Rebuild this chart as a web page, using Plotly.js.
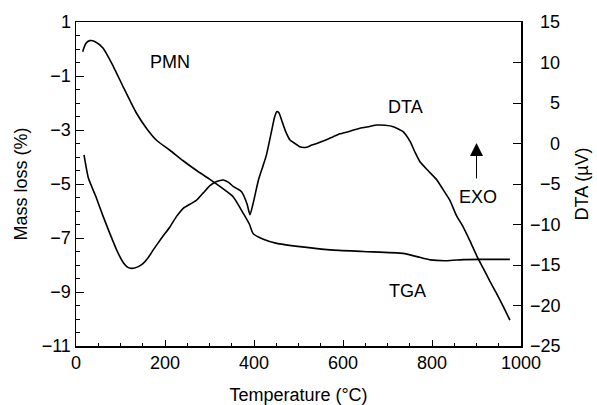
<!DOCTYPE html>
<html>
<head>
<meta charset="utf-8">
<script src="https://cdn.plot.ly/plotly-3.0.1.min.js"></script>
<style>html,body{margin:0;padding:0;background:#fff;}#chart{width:597px;height:405px;}</style>
</head>
<body>
<div id="chart"></div>
<script>
// TGA: mass loss (%) vs temperature (°C), left axis
const tgaTemp = [15, 22, 31, 43, 61, 84, 106, 136, 159, 181, 211, 240, 271, 300, 324, 353, 376, 390, 398, 421, 451, 503, 571, 646, 735, 766, 796, 833, 870, 908, 975];
const tgaMass = [-0.1, 0.2, 0.31, 0.27, 0.03, -0.65, -1.4, -2.38, -2.95, -3.38, -3.75, -4.13, -4.5, -4.82, -5.1, -5.47, -6.09, -6.5, -6.83, -7.05, -7.2, -7.32, -7.44, -7.5, -7.57, -7.69, -7.81, -7.84, -7.8, -7.79, -7.79];

// DTA: signal (µV) vs temperature (°C), right axis
const dtaTemp = [18, 28, 45, 61, 76, 91, 105, 114, 122, 129, 140, 151, 162, 174, 192, 211, 226, 241, 256, 271, 286, 301, 316, 331, 343, 353, 363, 372, 384, 391, 398, 410, 420, 428, 440, 446, 451, 456, 462, 471, 481, 492, 503, 512, 518, 530, 541, 560, 578, 593, 612, 638, 660, 676, 695, 713, 735, 751, 762, 773, 792, 811, 825, 840, 855, 870, 885, 900, 915, 930, 945, 960, 975];
const dtaSignal = [-1.4, -4.3, -6.6, -9.0, -11.1, -13.1, -14.6, -15.2, -15.4, -15.4, -15.2, -14.8, -14.1, -13.1, -11.7, -10.3, -9.0, -8.0, -7.5, -7.0, -6.1, -5.2, -4.7, -4.5, -4.8, -5.3, -5.6, -5.95, -7.4, -8.8, -7.4, -4.5, -2.8, -1.4, 1.67, 3.2, 3.93, 3.8, 2.9, 1.5, 0.43, 0.0, -0.4, -0.5, -0.47, -0.2, 0.0, 0.4, 0.84, 1.2, 1.46, 1.88, 2.1, 2.28, 2.25, 2.07, 1.46, 0.22, -1.1, -2.25, -3.4, -4.5, -5.7, -7.0, -8.9, -10.3, -12.0, -13.8, -15.4, -17.0, -18.5, -20.1, -21.8];

// tick labels
const xTickVals = [0, 200, 400, 600, 800, 1000];
const massTickVals = [-11, -9, -7, -5, -3, -1, 1];
const dtaTickVals = [-25, -20, -15, -10, -5, 0, 5, 10, 15];

const FONT = 'Liberation Sans, Arial, Helvetica, sans-serif';

// right-align right-axis labels by padding with figure spaces
function fmt(v){ return (v < 0 ? '\u2212' : '') + Math.abs(v); }
function padWidth(s){ let w = 0; for (const c of s) w += (c === '\u2212') ? 0.584 : 0.556; return w; }
const dtaRaw = dtaTickVals.map(fmt);
const maxW = Math.max(...dtaRaw.map(padWidth));
const dtaTickText = dtaRaw.map(s => '\u2007'.repeat(Math.round((maxW - padWidth(s)) / 0.556)) + s);

const traces = [
  {x: tgaTemp, y: tgaMass, type: 'scatter', mode: 'lines', yaxis: 'y',
   line: {color: '#000', width: 1.6, shape: 'spline', smoothing: 0.6}, hoverinfo: 'skip'},
  {x: dtaTemp, y: dtaSignal, type: 'scatter', mode: 'lines', yaxis: 'y2',
   line: {color: '#000', width: 1.6, shape: 'spline', smoothing: 0.5}, hoverinfo: 'skip'}
];

const layout = {
  width: 597, height: 405,
  margin: {l: 76, r: 76, t: 22, b: 59},
  paper_bgcolor: '#fff', plot_bgcolor: '#fff',
  showlegend: false,
  font: {family: FONT, color: '#000', size: 18},
  xaxis: {
    range: [0, 1000], tickvals: xTickVals, ticks: 'inside', ticklen: 6, tickwidth: 1, tickcolor: '#000',
    minor: {dtick: 50, ticks: 'inside', ticklen: 3, tickcolor: '#000', tickwidth: 1},
    showline: true, linecolor: '#000', linewidth: 1.5, mirror: true,
    showgrid: false, zeroline: false,
    tickfont: {size: 18},
    title: {text: 'Temperature (°C)', font: {size: 18}, standoff: 22}
  },
  yaxis: {
    range: [-11, 1], tickvals: massTickVals, ticks: 'inside', ticklen: 8, tickwidth: 1, tickcolor: '#000',
    minor: {dtick: 0.5, ticks: 'inside', ticklen: 4, tickcolor: '#000', tickwidth: 1},
    showline: true, linecolor: '#000', linewidth: 1.5,
    showgrid: false, zeroline: false,
    tickfont: {size: 18},
    title: {text: 'Mass loss (%)', font: {size: 18}, standoff: 9}
  },
  yaxis2: {
    overlaying: 'y', side: 'right', anchor: 'x',
    range: [-25, 15], tickvals: dtaTickVals, ticktext: dtaTickText,
    ticks: 'inside', ticklen: 8, tickwidth: 1, tickcolor: '#000',
    ticklabelstandoff: 4,
    showline: true, linecolor: '#000', linewidth: 1.5,
    showgrid: false, zeroline: false,
    tickfont: {size: 18},
    title: {text: 'DTA (µV)', font: {size: 18}, standoff: 16}
  },
  annotations: [
    {x: 211, y: -0.48, xref: 'x', yref: 'y', text: 'PMN', showarrow: false, font: {size: 18}},
    {x: 741, y: -2.15, xref: 'x', yref: 'y', text: 'DTA', showarrow: false, font: {size: 18}},
    {x: 746, y: -8.96, xref: 'x', yref: 'y', text: 'TGA', showarrow: false, font: {size: 18}},
    {x: 903, y: -5.48, xref: 'x', yref: 'y', text: 'EXO', showarrow: false, font: {size: 18}},
    {x: 900, y: -3.48, xref: 'x', yref: 'y', ax: 900, ay: -4.85, axref: 'x', ayref: 'y',
     text: '', showarrow: true, arrowhead: 2, arrowsize: 2.6, arrowwidth: 1, arrowcolor: '#000'}
  ]
};

Plotly.newPlot('chart', traces, layout, {staticPlot: true, displayModeBar: false});
</script>
</body>
</html>
